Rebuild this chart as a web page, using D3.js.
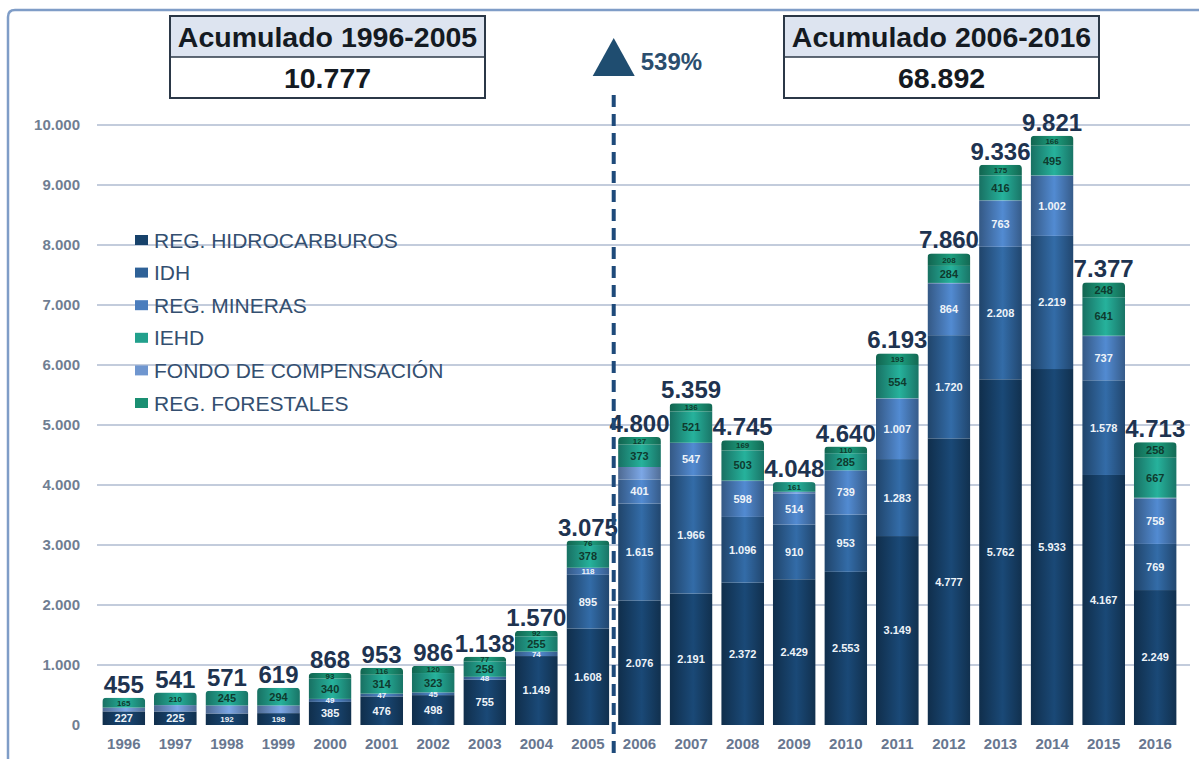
<!DOCTYPE html>
<html>
<head>
<meta charset="utf-8">
<script src="https://cdn.jsdelivr.net/npm/d3@7"></script>
<style>
  body { margin: 0; background: #fff; }
  svg { display: block; font-family: "Liberation Sans", Arial, sans-serif; }
</style>
</head>
<body>
<div id="chart"></div>
<script>
// data (millones de Bs)
var years = ['1996','1997','1998','1999','2000','2001','2002','2003','2004','2005',
             '2006','2007','2008','2009','2010','2011','2012','2013','2014','2015','2016'];
var hidro      = [227,225,192,198,385,476,498,755,1149,1608,2076,2191,2372,2429,2553,3149,4777,5762,5933,4167,2249];
var idh        = [0,0,0,0,0,0,0,0,0,895,1615,1966,1096,910,953,1283,1720,2208,2219,1578,769];
var mineras    = [0,0,0,0,49,47,45,48,74,118,401,547,598,514,739,1007,864,763,1002,737,758];
var fondo      = [63,106,134,127,1,0,0,0,0,0,208,0,7,34,0,7,7,12,6,6,12];
var iehd       = [165,210,245,294,340,314,323,258,255,378,373,521,503,161,285,554,284,416,495,641,667];
var forestales = [0,0,0,0,93,116,120,77,92,76,127,136,169,0,110,193,208,175,166,248,258];
var totals     = [455,541,571,619,868,953,986,1138,1570,3075,4800,5359,4745,4048,4640,6193,7860,9336,9821,7377,4713];
var yTicks = [0,1000,2000,3000,4000,5000,6000,7000,8000,9000,10000];
var legendNames = ['REG. HIDROCARBUROS','IDH','REG. MINERAS','IEHD','FONDO DE COMPENSACIÓN','REG. FORESTALES'];
var boxTitles = ['Acumulado 1996-2005','Acumulado 2006-2016'];
var boxValues = ['10.777','68.892'];
var growthLabel = '539%';

var width = 1199, height = 759;

var loc = d3.formatLocale({decimal: ',', thousands: '.', grouping: [3], currency: ['', '']});
var fmt = loc.format(',d');

// series in stacking order (bottom -> top)
var series = [
  {key: 'hidro',      name: legendNames[0], vals: hidro,      color: '#17426b', label: '#eef3f8'},
  {key: 'idh',        name: legendNames[1], vals: idh,        color: '#2e6197', label: '#eef3f8'},
  {key: 'mineras',    name: legendNames[2], vals: mineras,    color: '#4a7dbd', label: '#eef3f8'},
  {key: 'fondo',      name: legendNames[4], vals: fondo,      color: '#6f96cf', label: null},
  {key: 'iehd',       name: legendNames[3], vals: iehd,       color: '#22a08c', label: '#0f3a2e'},
  {key: 'forestales', name: legendNames[5], vals: forestales, color: '#1a8f72', label: '#0f3a2e'}
];
var legendOrder = ['hidro','idh','mineras','iehd','fondo','forestales'];

var rows = years.map(function(y, i) {
  var r = {year: y, total: totals[i]};
  series.forEach(function(s) { r[s.key] = s.vals[i]; });
  return r;
});
var stacked = d3.stack().keys(series.map(function(s) { return s.key; }))(rows);

var svg = d3.select('#chart').append('svg')
    .attr('width', width)
    .attr('height', height);

var defs = svg.append('defs');
series.forEach(function(s) {
  var g = defs.append('linearGradient')
      .attr('id', 'grad-' + s.key)
      .attr('x1', '0%').attr('x2', '100%').attr('y1', '0%').attr('y2', '0%');
  var c = d3.color(s.color);
  g.append('stop').attr('offset', '0%').attr('stop-color', c.darker(1));
  g.append('stop').attr('offset', '55%').attr('stop-color', c.brighter(0.3));
  g.append('stop').attr('offset', '100%').attr('stop-color', c.darker(0.9));
});

var x = d3.scaleBand()
    .domain(years)
    .range([98, 1181])
    .paddingInner(0.17)
    .paddingOuter(0.085);

var y = d3.scaleLinear()
    .domain([0, 10000])
    .range([725, 125]);

// outer frame
svg.append('path')
    .attr('d', 'M8,' + height + ' L8,17 Q8,10 15,10 L' + (width + 5) + ',10')
    .attr('fill', 'none')
    .attr('stroke', '#7f9dc7')
    .attr('stroke-width', 2.5);

// grid lines
svg.append('g').selectAll('line')
    .data(yTicks.slice(1))
    .enter().append('line')
    .attr('x1', 97).attr('x2', 1190)
    .attr('y1', function(d) { return y(d); })
    .attr('y2', function(d) { return y(d); })
    .attr('stroke', '#c3ccdc')
    .attr('stroke-width', 2);

// y axis labels
var yAxis = d3.axisLeft(y).tickValues(yTicks).tickSize(0).tickPadding(0)
    .tickFormat(function(d) { return fmt(d); });
svg.append('g')
    .attr('transform', 'translate(80,0)')
    .call(yAxis)
    .call(function(g) { g.select('.domain').remove(); })
    .selectAll('text')
    .attr('font-size', 15)
    .attr('font-weight', 'bold')
    .attr('font-family', '"Liberation Sans", Arial, sans-serif')
    .attr('fill', '#707e92');

// x axis labels
var xAxis = d3.axisBottom(x).tickSize(0).tickPadding(0);
svg.append('g')
    .attr('transform', 'translate(0,738)')
    .call(xAxis)
    .call(function(g) { g.select('.domain').remove(); })
    .selectAll('text')
    .attr('font-size', 15)
    .attr('font-weight', 'bold')
    .attr('font-family', '"Liberation Sans", Arial, sans-serif')
    .attr('fill', '#687790');

// clip paths: rounded bar tops
rows.forEach(function(r, i) {
  var top = d3.max(stacked, function(l) { return l[i][1]; });
  defs.append('clipPath').attr('id', 'clip-' + i)
    .append('rect')
    .attr('x', x(r.year))
    .attr('y', y(top))
    .attr('width', x.bandwidth())
    .attr('height', y(0) - y(top) + 4)
    .attr('rx', 4);
});

// bars
var layers = svg.append('g').selectAll('g')
    .data(stacked)
    .enter().append('g')
    .attr('fill', function(d, i) { return 'url(#grad-' + series[i].key + ')'; });

layers.selectAll('rect')
    .data(function(d) { return d.filter(function(e) { return e[1] > e[0]; }); })
    .enter().append('rect')
    .attr('clip-path', function(d) { return 'url(#clip-' + years.indexOf(d.data.year) + ')'; })
    .attr('x', function(d) { return x(d.data.year); })
    .attr('y', function(d) { return y(d[1]); })
    .attr('width', x.bandwidth())
    .attr('height', function(d) { return y(d[0]) - y(d[1]); });

// segment labels
stacked.forEach(function(layer, li) {
  var s = series[li];
  if (!s.label) return;
  svg.append('g').selectAll('text')
      .data(layer.filter(function(d) { return d[1] - d[0] > 0; }))
      .enter().append('text')
      .attr('x', function(d) { return x(d.data.year) + x.bandwidth() / 2; })
      .attr('y', function(d) { return (y(d[0]) + y(d[1])) / 2; })
      .attr('dy', '0.36em')
      .attr('text-anchor', 'middle')
      .attr('font-size', function(d) { return (y(d[0]) - y(d[1])) < 13 ? 8 : 11; })
      .attr('font-weight', 'bold')
      .attr('fill', s.label)
      .text(function(d) { return fmt(d[1] - d[0]); });
});

// totals
svg.append('g').selectAll('text')
    .data(rows)
    .enter().append('text')
    .attr('x', function(d) { return x(d.year) + x.bandwidth() / 2; })
    .attr('y', function(d) { return y(d.total) - 5; })
    .attr('text-anchor', 'middle')
    .attr('font-size', 24)
    .attr('font-weight', 'bold')
    .attr('fill', '#1e3350')
    .text(function(d) { return fmt(d.total); });

// legend
var legend = svg.append('g').selectAll('g')
    .data(legendOrder.map(function(k) { return series.find(function(s) { return s.key === k; }); }))
    .enter().append('g')
    .attr('transform', function(d, i) { return 'translate(135,' + (240 + i * 32.6) + ')'; });
legend.append('rect')
    .attr('x', 0).attr('y', -5)
    .attr('width', 13).attr('height', 10)
    .attr('fill', function(d) { return d.color; });
legend.append('text')
    .attr('x', 19).attr('dy', '0.36em')
    .attr('font-size', 21)
    .attr('fill', '#344f70')
    .text(function(d) { return d.name; });

// divider between periods
var split = x(years[9]) + x.bandwidth() + (x.step() - x.bandwidth()) / 2;
svg.append('line')
    .attr('x1', split).attr('x2', split)
    .attr('y1', 95).attr('y2', height)
    .attr('stroke', '#1e4a7a')
    .attr('stroke-width', 4)
    .attr('stroke-dasharray', '12,7');

svg.append('path')
    .attr('d', 'M' + (split - 21) + ',76 L' + split + ',38 L' + (split + 21) + ',76 Z')
    .attr('fill', '#1f4d70');
svg.append('text')
    .attr('x', split + 27).attr('y', 70)
    .attr('font-size', 24)
    .attr('font-weight', 'bold')
    .attr('fill', '#2b4e6e')
    .text(growthLabel);

// cumulative boxes
var boxX = [170, 784];
boxX.forEach(function(bx, i) {
  var g = svg.append('g').attr('transform', 'translate(' + bx + ',16)');
  g.append('rect').attr('width', 315).attr('height', 41).attr('fill', '#dde4f0');
  g.append('rect').attr('width', 315).attr('height', 82)
    .attr('fill', 'none').attr('stroke', '#2b3847').attr('stroke-width', 2);
  g.append('line').attr('x1', 0).attr('x2', 315).attr('y1', 41).attr('y2', 41)
    .attr('stroke', '#2b3847').attr('stroke-width', 1.5);
  g.append('text').attr('x', 157.5).attr('y', 31)
    .attr('text-anchor', 'middle').attr('font-size', 28.5).attr('font-weight', 'bold')
    .attr('fill', '#141a22').text(boxTitles[i]);
  g.append('text').attr('x', 157.5).attr('y', 72)
    .attr('text-anchor', 'middle').attr('font-size', 28.5).attr('font-weight', 'bold')
    .attr('fill', '#141a22').text(boxValues[i]);
});
</script>
</body>
</html>
